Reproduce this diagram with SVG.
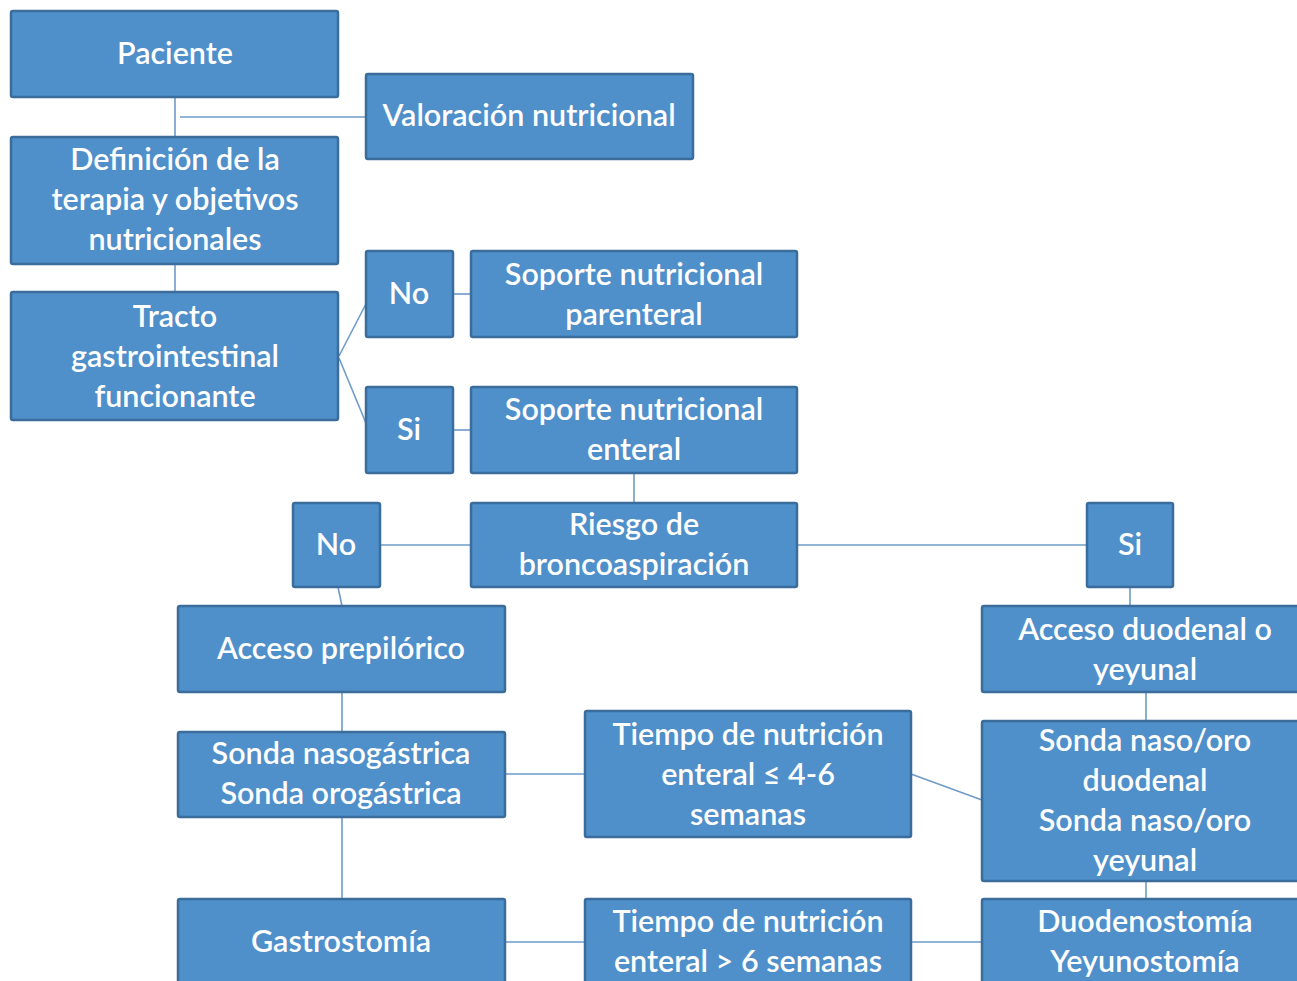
<svg xmlns="http://www.w3.org/2000/svg" width="1297" height="981" viewBox="0 0 1297 981">
<style>
.b{fill:#4F8FCA;stroke:#3A6C9C;stroke-width:2.5}
.t{fill:#FFFFFF;font-family:Lato,"Open Sans","Liberation Sans",sans-serif;font-size:30.5px;font-weight:600;text-anchor:middle}
.c{stroke:#6E9BC8;stroke-width:1.6;fill:none}
</style>
<rect width="1297" height="981" fill="#FFFFFF"/>
<g id="connectors">
<line class="c" x1="175" y1="97" x2="175" y2="137"/>
<line class="c" x1="180" y1="117" x2="366" y2="117"/>
<line class="c" x1="175" y1="264" x2="175" y2="292"/>
<line class="c" x1="339" y1="356" x2="368" y2="300"/>
<line class="c" x1="339" y1="358" x2="368" y2="428"/>
<line class="c" x1="453" y1="294" x2="471" y2="294"/>
<line class="c" x1="453" y1="430" x2="471" y2="430"/>
<line class="c" x1="634" y1="473" x2="634" y2="503"/>
<line class="c" x1="380" y1="545" x2="471" y2="545"/>
<line class="c" x1="797" y1="545" x2="1087" y2="545"/>
<line class="c" x1="338" y1="587" x2="342" y2="606"/>
<line class="c" x1="1130" y1="587" x2="1130" y2="606"/>
<line class="c" x1="342" y1="692" x2="342" y2="732"/>
<line class="c" x1="1146" y1="692" x2="1146" y2="721"/>
<line class="c" x1="505" y1="774" x2="585" y2="774"/>
<line class="c" x1="911" y1="774" x2="982" y2="800"/>
<line class="c" x1="342" y1="817" x2="342" y2="899"/>
<line class="c" x1="1146" y1="881" x2="1146" y2="899"/>
<line class="c" x1="505" y1="942" x2="585" y2="942"/>
<line class="c" x1="911" y1="942" x2="982" y2="942"/>
</g>
<g id="paciente"><rect class="b" x="11" y="11" width="327" height="86" rx="2"/><text class="t" x="175" y="64">Paciente</text></g>
<g id="valoracion"><rect class="b" x="366" y="74" width="327" height="85" rx="2"/><text class="t" x="529" y="126">Valoración nutricional</text></g>
<g id="definicion"><rect class="b" x="11" y="137" width="327" height="127" rx="2"/><text class="t" x="175" y="170">Definición de la</text><text class="t" x="175" y="210">terapia y objetivos</text><text class="t" x="175" y="250">nutricionales</text></g>
<g id="tracto"><rect class="b" x="11" y="292" width="327" height="128" rx="2"/><text class="t" x="175" y="327">Tracto</text><text class="t" x="175" y="367">gastrointestinal</text><text class="t" x="175" y="407">funcionante</text></g>
<g id="no1"><rect class="b" x="366" y="251" width="87" height="86" rx="2"/><text class="t" x="409" y="304">No</text></g>
<g id="parenteral"><rect class="b" x="471" y="251" width="326" height="86" rx="2"/><text class="t" x="634" y="285">Soporte nutricional</text><text class="t" x="634" y="325">parenteral</text></g>
<g id="si1"><rect class="b" x="366" y="387" width="87" height="86" rx="2"/><text class="t" x="409" y="440">Si</text></g>
<g id="enteral"><rect class="b" x="471" y="387" width="326" height="86" rx="2"/><text class="t" x="634" y="420">Soporte nutricional</text><text class="t" x="634" y="460">enteral</text></g>
<g id="no2"><rect class="b" x="293" y="503" width="87" height="84" rx="2"/><text class="t" x="336" y="555">No</text></g>
<g id="riesgo"><rect class="b" x="471" y="503" width="326" height="84" rx="2"/><text class="t" x="634" y="535">Riesgo de</text><text class="t" x="634" y="575">broncoaspiración</text></g>
<g id="si2"><rect class="b" x="1087" y="503" width="86" height="84" rx="2"/><text class="t" x="1130" y="555">Si</text></g>
<g id="prepilorico"><rect class="b" x="178" y="606" width="327" height="86" rx="2"/><text class="t" x="341" y="659">Acceso prepilórico</text></g>
<g id="duodenal"><rect class="b" x="982" y="606" width="327" height="86" rx="2"/><text class="t" x="1145" y="640">Acceso duodenal o</text><text class="t" x="1145" y="680">yeyunal</text></g>
<g id="nasogastrica"><rect class="b" x="178" y="732" width="327" height="85" rx="2"/><text class="t" x="341" y="764">Sonda nasogástrica</text><text class="t" x="341" y="804">Sonda orogástrica</text></g>
<g id="tiempo1"><rect class="b" x="585" y="711" width="326" height="126" rx="2"/><text class="t" x="748" y="745">Tiempo de nutrición</text><text class="t" x="748" y="785">enteral  ≤ 4-6</text><text class="t" x="748" y="825">semanas</text></g>
<g id="nasooro"><rect class="b" x="982" y="721" width="327" height="160" rx="2"/><text class="t" x="1145" y="751">Sonda naso/oro</text><text class="t" x="1145" y="791">duodenal</text><text class="t" x="1145" y="831">Sonda naso/oro</text><text class="t" x="1145" y="871">yeyunal</text></g>
<g id="gastrostomia"><rect class="b" x="178" y="899" width="327" height="90" rx="2"/><text class="t" x="341" y="952">Gastrostomía</text></g>
<g id="tiempo2"><rect class="b" x="585" y="899" width="326" height="90" rx="2"/><text class="t" x="748" y="932">Tiempo de nutrición</text><text class="t" x="748" y="972">enteral &gt; 6 semanas</text></g>
<g id="duodenostomia"><rect class="b" x="982" y="899" width="327" height="90" rx="2"/><text class="t" x="1145" y="932">Duodenostomía</text><text class="t" x="1145" y="972">Yeyunostomía</text></g>
</svg>
